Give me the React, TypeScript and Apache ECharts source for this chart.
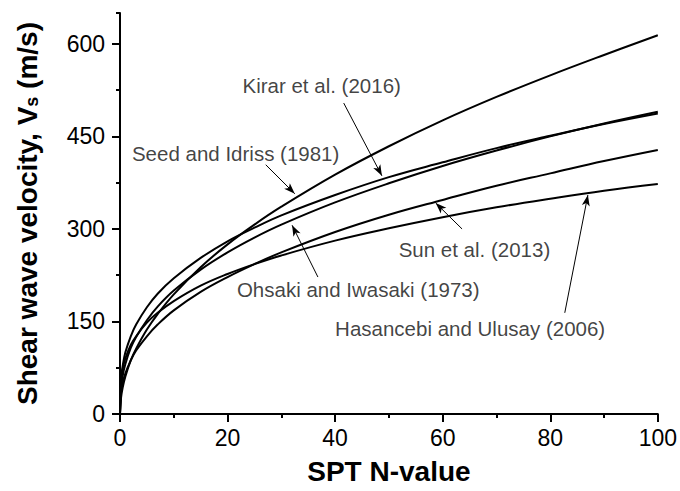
import React, { useEffect, useRef } from "react";
import * as echarts from "echarts";

const nValues = [0, 0.2, 0.5, 1, 2, 3, 5, 7, 10, 15, 20, 25, 30, 40, 50, 60, 70, 80, 90, 100];
const seedIdriss = [0, 27, 43, 61, 87, 106, 137, 162, 194, 238, 275, 307, 336, 388, 434, 476, 514, 549, 582, 614];
const ohsakiIwasaki = [0, 43, 62, 81, 107, 125, 152, 174, 200, 234, 262, 286, 307, 343, 374, 402, 427, 450, 471, 490];
const kirar = [0, 57, 78, 100, 126, 145, 173, 195, 220, 253, 280, 302, 322, 355, 384, 408, 431, 451, 470, 487];
const sunEtAl = [0, 34, 50, 66, 87, 103, 126, 145, 168, 198, 222, 243, 262, 295, 323, 347, 370, 390, 410, 428];
const hasancebi = [0, 55, 73, 90, 112, 126, 148, 164, 183, 208, 227, 243, 257, 281, 301, 319, 335, 349, 362, 373];

const seriesNames = [
  "Seed and Idriss (1981)",
  "Ohsaki and Iwasaki (1973)",
  "Kirar et al. (2016)",
  "Sun et al. (2013)",
  "Hasancebi and Ulusay (2006)",
];

const yMajorTicks = [0, 150, 300, 450, 600];
const yMinorTicks = [75, 225, 375, 525, 650];

// annotation label anchors [N, Vs]
const labelNames = ["Kirar et al. (2016)", "Seed and Idriss (1981)", "Sun et al. (2013)", "Ohsaki and Iwasaki (1973)", "Hasancebi and Ulusay (2006)"];
const labelPos = [
  [37.5, 533],
  [21.5, 423],
  [65.9, 266],
  [44.3, 201],
  [65.1, 139],
];
// arrows: [fromN, fromVs, toN, toVs]
const arrows = [
  [41.6, 504, 48.7, 386],
  [27.1, 404, 32.5, 357],
  [63.6, 300, 58.7, 342],
  [36.8, 222, 32.0, 306],
  [82.7, 164, 87.0, 355],
];

const FONT = "'Liberation Sans', Arial, sans-serif";

export default function App() {
  const ref = useRef<HTMLDivElement>(null);
  useEffect(() => {
    if (!ref.current) return;
    const chart = echarts.init(ref.current, undefined, { renderer: "svg" });
    const curves = [seedIdriss, ohsakiIwasaki, kirar, sunEtAl, hasancebi];
    const lineSeries: any[] = curves.map((vals, i) => ({
      type: "line",
      name: seriesNames[i],
      data: nValues.map((n, j) => [n, vals[j]]),
      showSymbol: false,
      smooth: 0.4,
      lineStyle: { color: "#000", width: 2 },
      silent: true,
      z: 3,
    }));
    lineSeries[0].markLine = {
      silent: true,
      symbol: ["none", "arrow"],
      symbolSize: [6, 11],
      label: { show: false },
      lineStyle: { color: "#000", width: 1, type: "solid" },
      data: arrows.map((a) => [{ coord: [a[0], a[1]] }, { coord: [a[2], a[3]] }]),
    };
    lineSeries.push({
      type: "scatter",
      name: "labels",
      symbolSize: 0,
      silent: true,
      data: labelPos.map((p, i) => ({ value: p, name: labelNames[i] })),
      label: {
        show: true,
        position: "inside",
        formatter: "{b}",
        color: "#111",
        fontSize: 20.5,
        fontFamily: FONT,
      },
    });
    chart.setOption({
      animation: false,
      backgroundColor: "#fff",
      grid: { left: 120, right: 22, top: 13, bottom: 77 },
      xAxis: {
        type: "value",
        min: 0,
        max: 100,
        interval: 20,
        name: "SPT N-value",
        nameLocation: "middle",
        nameGap: 43,
        nameTextStyle: { fontSize: 28, fontWeight: "bold", color: "#000", fontFamily: FONT },
        axisLine: { show: true, lineStyle: { color: "#000", width: 2 } },
        axisTick: { show: true, length: 8, inside: false, lineStyle: { color: "#000", width: 2 } },
        minorTick: { show: true, splitNumber: 2, length: 4, lineStyle: { color: "#000", width: 2 } },
        axisLabel: { fontSize: 23, color: "#000", margin: 12, fontFamily: FONT },
        splitLine: { show: false },
      },
      yAxis: [
        {
          type: "value",
          min: 0,
          max: 650,
          name: "Shear wave velocity, V{sub|s} (m/s)",
          nameLocation: "middle",
          nameGap: 79,
          nameRotate: 90,
          nameTextStyle: {
            fontSize: 28,
            fontWeight: "bold",
            color: "#000",
            fontFamily: FONT,
            rich: {
              sub: { fontSize: 18, fontWeight: "bold", color: "#000", fontFamily: FONT, verticalAlign: "bottom" },
            },
          },
          axisLine: { show: true, lineStyle: { color: "#000", width: 2 } },
          axisTick: { show: true, length: 8, lineStyle: { color: "#000", width: 2 }, customValues: yMajorTicks },
          axisLabel: { fontSize: 23, color: "#000", margin: 15, fontFamily: FONT, customValues: yMajorTicks },
          splitLine: { show: false },
        },
        {
          type: "value",
          min: 0,
          max: 650,
          position: "left",
          axisLine: { show: false },
          axisTick: { show: true, length: 4, lineStyle: { color: "#000", width: 2 }, customValues: yMinorTicks },
          axisLabel: { show: false },
          splitLine: { show: false },
        },
      ],
      series: lineSeries,
    });
    return () => chart.dispose();
  }, []);
  return <div ref={ref} style={{ position: "fixed", left: 0, top: 0, width: 680, height: 491 }} />;
}
